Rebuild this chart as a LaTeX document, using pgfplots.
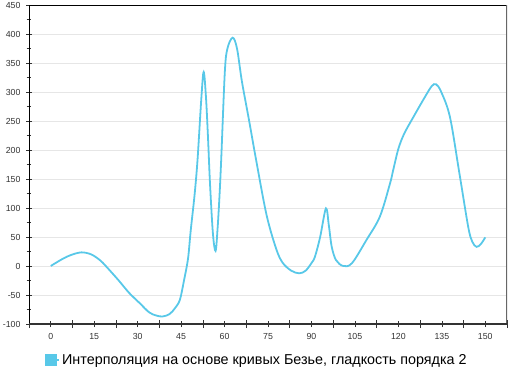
\documentclass[border=0pt]{standalone}
\usepackage{fontspec}
\setmainfont{Liberation Sans}
\usepackage{pgfplots}
\pgfplotsset{compat=1.18}
\definecolor{curve}{HTML}{58C8E8}
\definecolor{gridc}{HTML}{E6E6E6}
\definecolor{tickc}{HTML}{333333}
\begin{document}
\begin{tikzpicture}
\useasboundingbox (-29bp,-50bp) rectangle (483bp,324bp);
\begin{axis}[
  at={(0,0)}, anchor=south west,
  scale only axis, width=478bp, height=319bp,
  xmin=-7.5, xmax=157.5, ymin=-100, ymax=450,
  axis line style={draw=none},
  tick pos=left, tick align=center,
  xtick={0,15,...,150},
  extra x ticks={-7.5,7.5,22.5,37.5,52.5,67.5,82.5,97.5,112.5,127.5,142.5,157.5},
  extra x tick labels={},
  extra x tick style={major tick length=8bp, grid=none},
  ytick={-100,-50,...,450},
  minor y tick num=1,
  major tick length=6bp, minor tick length=5bp,
  every tick/.style={tickc, line width=0.6pt},
  ymajorgrids, major grid style={gridc, line width=0.8pt},
  /pgf/number format/assume math mode=true,
  ticklabel style={font=\fontsize{8.8}{10}\selectfont, text=tickc},
  yticklabel style={xshift=-2bp},
  xticklabel style={yshift=-3bp},
  legend style={at={(0.477,-0.113)}, anchor=center, draw=none, fill=none,
    font=\fontsize{14.4}{17}\selectfont},
  legend image code/.code={\fill[curve] (-3bp,-5bp) rectangle (7bp,5bp);
    \path (7bp,0bp) -- (10bp,0bp);},
]
\addplot[curve, line width=1.8pt, smooth, tension=0.55] coordinates {
(0,0) (4,12) (7,19) (10.6,23.5) (14,20) (17,10) (19,0) (23.3,-24) (27,-46)
(30.7,-64) (34,-80) (36.5,-85.5) (38.6,-87) (41,-83) (43,-72) (44.6,-58)
(46,-25) (47.4,13) (48.3,60) (49.7,125) (50.7,185) (52,290) (52.8,334.5)
(53.6,290) (54.3,220) (55,140) (56,55) (56.9,26) (57.6,65) (58.3,125)
(58.9,190) (60.1,335) (61,375) (62.8,393.6) (64.3,375) (66,318) (68.5,250)
(71,180) (74.5,88) (77.8,30) (80,6) (83,-8) (85.8,-12.6) (88,-8)
(90,5) (91.2,16) (93,50) (95,99.3) (96,70) (97,33) (98.5,10) (101,0) (104,5)
(109,45) (113.6,85) (117.1,142) (118.2,165) (120,202) (122,228) (125.2,257)
(129,290) (131.5,310) (133,313.3) (134.8,300) (137.8,257) (141,162)
(144.1,67.7) (145.5,42) (147,33) (148.5,38) (150,49.4)
};
\addlegendentry{Интерполяция на основе кривых Безье, гладкость порядка 2}
\draw[black, line width=0.8pt] (rel axis cs:0,1) -- (rel axis cs:1,1);
\draw[gray!80!black, line width=1.5pt] (rel axis cs:1,0) -- (rel axis cs:1,1);
\draw[black, line width=1pt] (rel axis cs:0,0) -- (rel axis cs:0,1);
\draw[tickc, line width=1.5pt] (rel axis cs:0,0) -- (rel axis cs:1,0);
\end{axis}
\end{tikzpicture}
\end{document}
